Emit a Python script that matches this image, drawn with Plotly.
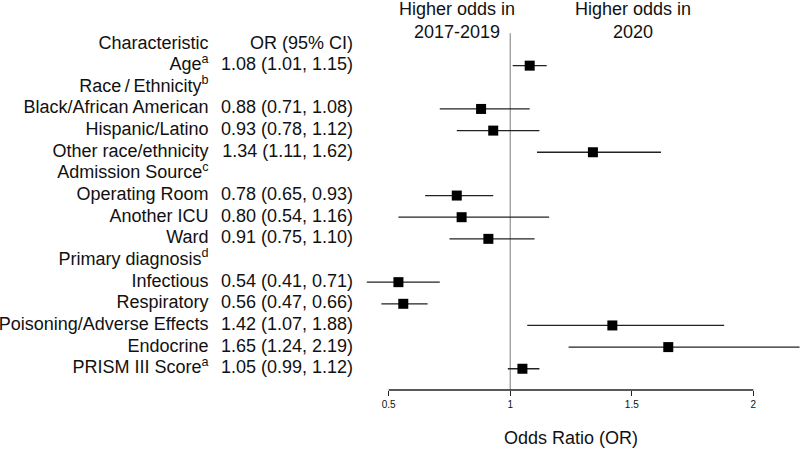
import plotly.graph_objects as go

labels = ["Age<sup>a</sup>", "Race\u2009/\u2009Ethnicity<sup>b</sup>", "Black/African American",
          "Hispanic/Latino", "Other race/ethnicity", "Admission Source<sup>c</sup>",
          "Operating Room", "Another ICU", "Ward", "Primary diagnosis<sup>d</sup>",
          "Infectious", "Respiratory", "Poisoning/Adverse Effects", "Endocrine",
          "PRISM III Score<sup>a</sup>"]
odds = [1.08, None, 0.88, 0.93, 1.34, None, 0.78, 0.80, 0.91, None, 0.54, 0.56, 1.42, 1.65, 1.05]
ci_low = [1.01, None, 0.71, 0.78, 1.11, None, 0.65, 0.54, 0.75, None, 0.41, 0.47, 1.07, 1.24, 0.99]
ci_high = [1.15, None, 1.08, 1.12, 1.62, None, 0.93, 1.16, 1.10, None, 0.71, 0.66, 1.88, 2.19, 1.12]
tick_vals = [0.5, 1, 1.5, 2]
tick_text = ["0.5", "1", "1.5", "2"]

FONT = "Liberation Sans, Arial, sans-serif"
TXT = "#111111"

rows = list(range(1, len(labels) + 1))

px_per_unit = 243.1
x0_px = 388.7
xr = [0.5 - x0_px / px_per_unit, 0.5 + (800 - x0_px) / px_per_unit]
label_x = 0.5 + (208.5 - x0_px) / px_per_unit
or_x = 0.5 + (353 - x0_px) / px_per_unit

row_h = 21.65
yr = [(390 - 44) / row_h, -44 / row_h]

# rows with estimates
est_y, est_x, est_txt, ep, em = [], [], [], [], []
for r, o, l, h in zip(rows, odds, ci_low, ci_high):
    if o is None:
        continue
    est_y.append(r); est_x.append(o)
    est_txt.append(f"{o:.2f} ({l:.2f}, {h:.2f})")
    ep.append(h - o); em.append(o - l)

fig = go.Figure()

# labels column
fig.add_trace(go.Scatter(
    x=[label_x] * (len(labels) + 1), y=[0] + rows,
    text=["Characteristic"] + labels, mode="text", textposition="middle left",
    textfont=dict(family=FONT, size=18, color=TXT), hoverinfo="skip", showlegend=False))
# OR column
fig.add_trace(go.Scatter(
    x=[or_x] * (len(est_y) + 1), y=[0] + est_y,
    text=["OR (95% CI)"] + est_txt, mode="text", textposition="middle left",
    textfont=dict(family=FONT, size=18, color=TXT), hoverinfo="skip", showlegend=False))

# estimates with CIs
fig.add_trace(go.Scatter(
    x=est_x, y=est_y, mode="markers",
    marker=dict(symbol="square", size=10, color="black"),
    error_x=dict(type="data", symmetric=False, array=ep, arrayminus=em,
                 color="#222222", thickness=1.3, width=0),
    hoverinfo="skip", showlegend=False, cliponaxis=False))

# reference line at OR = 1
fig.add_shape(type="line", xref="x", yref="y", x0=1, x1=1, y0=-0.5, y1=yr[0],
              line=dict(color="#999999", width=1.3), layer="below")
# axis line from 0.5 to 2
fig.add_shape(type="line", xref="x", yref="paper", x0=tick_vals[0], x1=tick_vals[-1], y0=0, y1=0,
              line=dict(color="#222222", width=1.3))

fig.add_annotation(x=0.781, y=-1.08, xref="x", yref="y", text="Higher odds in<br>2017-2019",
                   showarrow=False, font=dict(family=FONT, size=18, color=TXT), yanchor="middle")
fig.add_annotation(x=1.505, y=-1.08, xref="x", yref="y", text="Higher odds in<br>2020",
                   showarrow=False, font=dict(family=FONT, size=18, color=TXT), yanchor="middle")
fig.add_annotation(x=1.25, y=-48 / 390, xref="x", yref="paper", text="Odds Ratio (OR)",
                   showarrow=False, font=dict(family=FONT, size=18, color=TXT), yanchor="middle")

fig.update_xaxes(range=xr, showgrid=False, zeroline=False, showline=False,
                 tickvals=tick_vals, ticktext=tick_text, ticks="outside", ticklen=5,
                 tickwidth=1.3, tickcolor="#222222",
                 tickfont=dict(family=FONT, size=10, color=TXT))
fig.update_yaxes(range=yr, showgrid=False, zeroline=False, showline=False,
                 showticklabels=False, ticks="")

fig.update_layout(width=800, height=449, margin=dict(l=0, r=0, t=0, b=59),
                  plot_bgcolor="white", paper_bgcolor="white")

fig.write_html("out.html", config={"displayModeBar": False, "staticPlot": True},
               post_script="document.body.style.margin='0';document.body.style.overflow='hidden';")
